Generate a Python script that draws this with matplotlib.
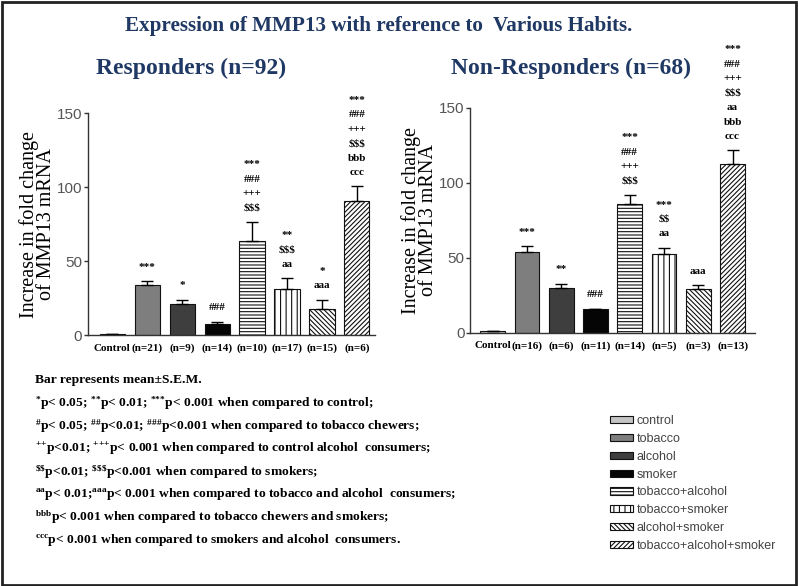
import numpy as np
import matplotlib
matplotlib.use("Agg")
import matplotlib.pyplot as plt
from matplotlib.patches import Rectangle

# groups / legend entries
groups = ["control", "tobacco", "alcohol", "smoker", "tobacco+alcohol",
          "tobacco+smoker", "alcohol+smoker", "tobacco+alcohol+smoker"]

# Responders (n=92)
resp_labels = ["Control", "(n=21)", "(n=9)", "(n=14)", "(n=10)", "(n=17)", "(n=15)", "(n=6)"]
resp_mean = [1, 33.7, 20.9, 7.4, 63.6, 31.5, 18.0, 90.4]
resp_sem = [0, 2.7, 3.1, 1.6, 12.9, 7.2, 6.0, 10.1]
resp_sig = [[], ["***"], ["*"], ["###"], ["***", "###", "+++", "$$$"],
            ["**", "$$$", "aa"], ["*", "aaa"], ["***", "###", "+++", "$$$", "bbb", "ccc"]]

# Non-Responders (n=68)
nonresp_labels = ["Control", "(n=16)", "(n=6)", "(n=11)", "(n=14)", "(n=5)", "(n=3)", "(n=13)"]
nonresp_mean = [1, 54.0, 30.0, 15.6, 86.2, 52.7, 29.3, 112.4]
nonresp_sem = [0, 3.8, 2.7, 0.6, 5.8, 4.0, 2.3, 9.2]
nonresp_sig = [[], ["***"], ["**"], ["###"], ["***", "###", "+++", "$$$"],
               ["***", "$$", "aa"], ["aaa"], ["***", "###", "+++", "$$$", "aa", "bbb", "ccc"]]

footnotes = [
    "Bar represents mean\u00b1S.E.M.",
    r"$^{*}$p< 0.05; $^{{*}{*}}$p< 0.01; $^{{*}{*}{*}}$p< 0.001 when compared to control;",
    r"$^{\#}$p< 0.05; $^{\#\#}$p<0.01; $^{\#\#\#}$p<0.001 when compared to tobacco chewers;",
    r"$^{{+}{+}}$p<0.01; $^{{+}{+}{+}}$p< 0.001 when compared to control alcohol  consumers;",
    r"$^{\$\$}$p<0.01; $^{\$\$\$}$p<0.001 when compared to smokers;",
    r"$^{aa}$p< 0.01;$^{aaa}$p< 0.001 when compared to tobacco and alcohol  consumers;",
    r"$^{bbb}$p< 0.001 when compared to tobacco chewers and smokers;",
    r"$^{ccc}$p< 0.001 when compared to smokers and alcohol  consumers.",
]

colors = ["#c4c4c4", "#7e7e7e", "#3e3e3e", "#050505", "white", "white", "white", "white"]
hatches = [None, None, None, None, "-----", "|||", "\\" * 7, "/" * 7]

plt.rcParams["hatch.linewidth"] = 0.8
plt.rcParams["mathtext.default"] = "regular"

navy = "#1f3864"
serif = "Liberation Serif"
sans = "Liberation Sans"

fig = plt.figure(figsize=(7.98, 5.86), dpi=100)


def draw_panel(ax, means, sems, labels, sigs, xlim, label_x):
    x = np.arange(len(means))
    lower = np.zeros(len(means))
    bars = ax.bar(x, means, width=0.72, color=colors, edgecolor="#111111",
                  linewidth=0.8, yerr=[lower, sems], capsize=4,
                  error_kw=dict(ecolor="black", elinewidth=1, capthick=1))
    for b, h in zip(bars, hatches):
        if h:
            b.set_hatch(h)
    # significance marks stacked above each error bar
    for i, marks in enumerate(sigs):
        top = means[i] + sems[i]
        for k, m in enumerate(reversed(marks)):
            ax.annotate(m, (x[i], top), xytext=(0, 10 + k * 10.4),
                        textcoords="offset points", ha="center", va="center",
                        fontsize=8, fontweight="bold", family=serif,
                        annotation_clip=False, parse_math=False)
    ax.set_xlim(*xlim)
    ax.set_ylim(0, 150)
    ax.set_yticks([0, 50, 100, 150])
    ax.set_xticks(x)
    ax.set_xticklabels(labels, fontsize=8, fontweight="bold", family=serif)
    ax.tick_params(axis="x", length=0, pad=6)
    ax.tick_params(axis="y", length=3, width=1, color="#333333",
                   labelsize=11, labelcolor="#555555", pad=1)
    for t in ax.get_yticklabels():
        t.set_family(sans)
    for s in ["top", "right"]:
        ax.spines[s].set_visible(False)
    for s in ["left", "bottom"]:
        ax.spines[s].set_color("#333333")
        ax.spines[s].set_linewidth(1)
    ax.set_ylabel("Increase in fold change\nof MMP13 mRNA", fontsize=14.5,
                  family=serif, linespacing=0.85)
    ax.yaxis.set_label_coords(label_x, 0.5)
    return bars


ax1 = fig.add_axes([0.110, 0.428, 0.360, 0.379])
bars = draw_panel(ax1, resp_mean, resp_sem, resp_labels, resp_sig, (-0.70, 7.52), -0.112)

ax2 = fig.add_axes([0.589, 0.432, 0.357, 0.384])
draw_panel(ax2, nonresp_mean, nonresp_sem, nonresp_labels, nonresp_sig, (-0.66, 7.65), -0.112)

# titles
fig.text(0.475, 0.955, "Expression of MMP13 with reference to  Various Habits.",
         ha="center", va="center", fontsize=15.2, fontweight="bold", family=serif, color=navy)
fig.text(0.240, 0.884, "Responders (n=92)", ha="center", va="center",
         fontsize=17, fontweight="bold", family=serif, color=navy)
fig.text(0.716, 0.884, "Non-Responders (n=68)", ha="center", va="center",
         fontsize=17, fontweight="bold", family=serif, color=navy)

# footnotes
for i, line in enumerate(footnotes):
    fig.text(0.044, 1 - (380 + 22.9 * i) / 586, line, ha="left", va="center",
             fontsize=9.7, fontweight="bold", family=serif)

# legend
leg = fig.legend(bars, groups, loc="upper left", bbox_to_anchor=(0.764, 0.292),
                 frameon=False, prop=dict(family=sans, size=9),
                 handlelength=1.85, handleheight=0.5, handletextpad=0.3,
                 labelspacing=0.47, borderpad=0, borderaxespad=0)
for t in leg.get_texts():
    t.set_color("#444444")

# outer border
fig.patches.append(Rectangle((0.002, 0.002), 0.995, 0.995, transform=fig.transFigure,
                             fill=False, edgecolor="#222222", linewidth=2))

fig.savefig("out.png", dpi=100)
